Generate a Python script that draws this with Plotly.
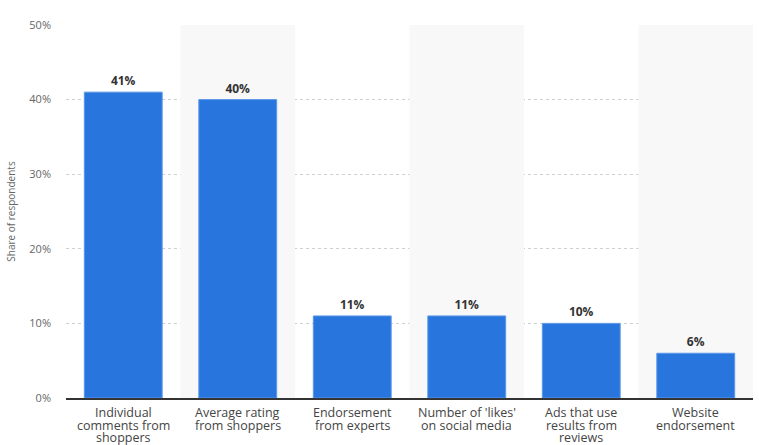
import plotly.graph_objects as go

categories = [
    "Individual<br>comments from<br>shoppers",
    "Average rating<br>from shoppers",
    "Endorsement<br>from experts",
    "Number of 'likes'<br>on social media",
    "Ads that use<br>results from<br>reviews",
    "Website<br>endorsement",
]
values = [41, 40, 11, 11, 10, 6]
y_ticks = [0, 10, 20, 30, 40, 50]
y_tick_labels = ["0%", "10%", "20%", "30%", "40%", "50%"]

band_vals = [None if i % 2 == 0 else 50 for i in range(len(categories))]

fig = go.Figure()
fig.add_trace(go.Bar(
    x=categories, y=band_vals, width=1,
    marker=dict(color="#f8f8f8", line=dict(width=0)),
    hoverinfo="skip", showlegend=False,
))
fig.add_trace(go.Bar(
    x=categories, y=values, width=0.68,
    marker=dict(color="#2876dd", line=dict(width=1, color="#5b97e8")),
    text=[f"<b>{v}%</b>" for v in values],
    textposition="outside",
    textfont=dict(size=12, color="#333333", family="Open Sans"),
    cliponaxis=False,
    showlegend=False,
))

# category labels, one annotation per line for tighter line spacing
annotations = []
for cat in categories:
    for i, line in enumerate(cat.split("<br>")):
        annotations.append(dict(
            x=cat, xref="x", y=0, yref="paper",
            text=line, showarrow=False,
            yanchor="top", xanchor="center",
            yshift=-5 - 12.5 * i, borderpad=0,
            font=dict(size=12.5, color="#444444", family="Open Sans"),
        ))

fig.update_layout(
    width=759, height=445,
    margin=dict(l=66, r=6, t=25, b=47),
    barmode="overlay",
    plot_bgcolor="white", paper_bgcolor="white",
    font=dict(family="Open Sans", color="#444444"),
    annotations=annotations,
    xaxis=dict(
        showticklabels=False,
        automargin=False,
        showgrid=False,
        showline=True, linecolor="#333333", linewidth=1.5,
        ticks="",
    ),
    yaxis=dict(
        range=[0, 50],
        automargin=False,
        tickvals=y_ticks, ticktext=y_tick_labels,
        tickfont=dict(size=11, color="#666666"),
        showgrid=True, gridcolor="#d0d0d0", griddash="dot", gridwidth=1,
        zeroline=False,
        ticklabelstandoff=14,
        title=dict(text="Share of respondents", font=dict(size=10, color="#666666"), standoff=11),
    ),
)

fig.write_html("out.html")
